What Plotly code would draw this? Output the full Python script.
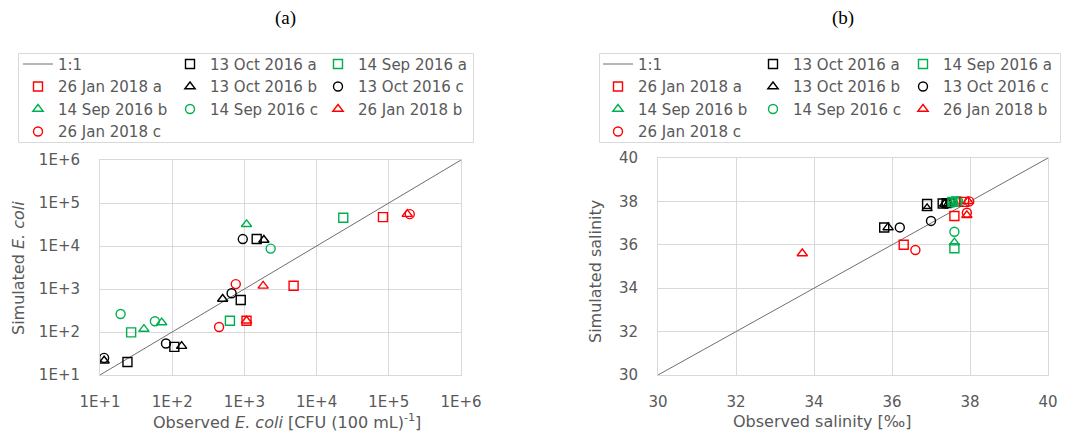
import plotly.graph_objects as go

W, H = 1073, 438
FONT = "DejaVu Sans"
TXT = "#595959"
GRID = "#d9d9d9"

# ---------------- data ----------------
series_names = ["13 Oct 2016 a", "13 Oct 2016 b", "13 Oct 2016 c",
                "14 Sep 2016 a", "14 Sep 2016 b", "14 Sep 2016 c",
                "26 Jan 2018 a", "26 Jan 2018 b", "26 Jan 2018 c"]
series_colors = ["#000000", "#000000", "#000000",
                 "#00B050", "#00B050", "#00B050",
                 "#FF0000", "#FF0000", "#FF0000"]
series_symbols = ["square-open", "triangle-up-open", "circle-open"] * 3

# Panel (a): E. coli [CFU (100 mL)^-1]
ecoli_obs_oct_a = [24, 107, 890, 1480]
ecoli_sim_oct_a = [20, 45, 555, 14500]
ecoli_obs_oct_b = [11.4, 135, 500, 1860]
ecoli_sim_oct_b = [21.5, 47, 585, 13800]
ecoli_obs_oct_c = [11.4, 82, 665, 950]
ecoli_sim_oct_c = [25, 54, 795, 14500]
ecoli_obs_sep_a = [27, 630, 23400]
ecoli_sim_sep_a = [98, 183, 45500]
ecoli_obs_sep_b = [40.6, 71.5, 1070]
ecoli_sim_sep_b = [117, 166, 32000]
ecoli_obs_sep_c = [19.3, 57.6, 2310]
ecoli_sim_sep_c = [262, 178, 8700]
ecoli_obs_jan_a = [1070, 4800, 83000]
ecoli_sim_jan_a = [183, 1190, 47000]
ecoli_obs_jan_b = [1070, 1820, 180000]
ecoli_sim_jan_b = [183, 1180, 55000]
ecoli_obs_jan_c = [446, 760, 195000]
ecoli_sim_jan_c = [131, 1300, 55000]

# Panel (b): salinity [‰]
sal_obs_oct_a = [35.8, 36.9, 37.3, 37.4]
sal_sim_oct_a = [36.8, 37.88, 37.9, 37.92]
sal_obs_oct_b = [35.9, 36.9, 37.35, 37.45]
sal_sim_oct_b = [36.8, 37.68, 37.88, 37.9]
sal_obs_oct_c = [36.2, 37.0, 37.4, 37.5]
sal_sim_oct_c = [36.8, 37.1, 37.9, 37.95]
sal_obs_sep_a = [37.6, 37.55, 37.65]
sal_sim_sep_a = [35.84, 37.98, 38.0]
sal_obs_sep_b = [37.6, 37.58, 37.68]
sal_sim_sep_b = [36.1, 37.98, 38.0]
sal_obs_sep_c = [37.6, 37.55, 37.7]
sal_sim_sep_c = [36.6, 37.95, 38.0]
sal_obs_jan_a = [36.3, 37.6, 37.85]
sal_sim_jan_a = [36.0, 37.33, 37.98]
sal_obs_jan_b = [33.7, 37.92, 37.95]
sal_sim_jan_b = [35.6, 37.36, 38.0]
sal_obs_jan_c = [36.6, 37.92, 37.98]
sal_sim_jan_c = [35.76, 37.48, 38.0]

ecoli_one_to_one = [10, 1e6]
sal_one_to_one = [30, 40]

ecoli_tickvals = [10, 100, 1000, 10000, 100000, 1000000]
ecoli_ticktext = ["1E+1", "1E+2", "1E+3", "1E+4", "1E+5", "1E+6"]
sal_tickvals = [30, 32, 34, 36, 38, 40]

ecoli_obs = [ecoli_obs_oct_a, ecoli_obs_oct_b, ecoli_obs_oct_c,
             ecoli_obs_sep_a, ecoli_obs_sep_b, ecoli_obs_sep_c,
             ecoli_obs_jan_a, ecoli_obs_jan_b, ecoli_obs_jan_c]
ecoli_sim = [ecoli_sim_oct_a, ecoli_sim_oct_b, ecoli_sim_oct_c,
             ecoli_sim_sep_a, ecoli_sim_sep_b, ecoli_sim_sep_c,
             ecoli_sim_jan_a, ecoli_sim_jan_b, ecoli_sim_jan_c]
sal_obs = [sal_obs_oct_a, sal_obs_oct_b, sal_obs_oct_c,
           sal_obs_sep_a, sal_obs_sep_b, sal_obs_sep_c,
           sal_obs_jan_a, sal_obs_jan_b, sal_obs_jan_c]
sal_sim = [sal_sim_oct_a, sal_sim_oct_b, sal_sim_oct_c,
           sal_sim_sep_a, sal_sim_sep_b, sal_sim_sep_c,
           sal_sim_jan_a, sal_sim_jan_b, sal_sim_jan_c]

# legend column (0,1,2) and row for each series (row-major Excel legend layout)
legend_col = {"13 Oct 2016 a": 1, "14 Sep 2016 a": 2,
              "26 Jan 2018 a": 0, "13 Oct 2016 b": 1, "13 Oct 2016 c": 2,
              "14 Sep 2016 b": 0, "14 Sep 2016 c": 1, "26 Jan 2018 b": 2,
              "26 Jan 2018 c": 0}
legend_rank = {"13 Oct 2016 a": 1, "14 Sep 2016 a": 1,
               "26 Jan 2018 a": 2, "13 Oct 2016 b": 2, "13 Oct 2016 c": 2,
               "14 Sep 2016 b": 3, "14 Sep 2016 c": 3, "26 Jan 2018 b": 3,
               "26 Jan 2018 c": 4}

fig = go.Figure()

panels = [("x", "y", ecoli_one_to_one, ecoli_obs, ecoli_sim, ["legend", "legend2", "legend3"]),
          ("x2", "y2", sal_one_to_one, sal_obs, sal_sim, ["legend4", "legend5", "legend6"])]

for xa, ya, oto, obs, sim, legs in panels:
    fig.add_trace(go.Scatter(x=oto, y=oto, mode="lines", name="1:1",
                             line=dict(color="#6f6f6f", width=1),
                             xaxis=xa, yaxis=ya, legend=legs[0], legendrank=0,
                             hoverinfo="skip"))
    for i, nm in enumerate(series_names):
        fig.add_trace(go.Scatter(
            x=obs[i], y=sim[i], mode="markers", name=nm,
            marker=dict(symbol=series_symbols[i], size=9, color=series_colors[i],
                        line=dict(color=series_colors[i], width=1.4)),
            xaxis=xa, yaxis=ya, legend=legs[legend_col[nm]],
            legendrank=legend_rank[nm]))

def px_x(p):
    return p / W

def px_y(p):
    return 1 - p / H

axis_common = dict(showgrid=True, gridcolor=GRID, gridwidth=1, showline=True,
                   linecolor=GRID, linewidth=1, mirror=True, zeroline=False,
                   ticks="", automargin=False,
                   tickfont=dict(family=FONT, size=15, color=TXT))

fig.update_layout(
    width=W, height=H, autosize=False,
    margin=dict(l=0, r=0, t=0, b=0, pad=0, autoexpand=False),
    paper_bgcolor="white", plot_bgcolor="white",
    font=dict(family=FONT, color=TXT),
    xaxis=dict(type="log", range=[1, 6], domain=[px_x(100), px_x(461)],
               tickvals=ecoli_tickvals, ticktext=ecoli_ticktext,
               ticklabelstandoff=13, anchor="y", **axis_common),
    yaxis=dict(type="log", range=[1, 6], domain=[px_y(375), px_y(160)],
               tickvals=ecoli_tickvals, ticktext=ecoli_ticktext,
               ticklabelstandoff=16, anchor="x", **axis_common),
    xaxis2=dict(range=[30, 40], domain=[px_x(658), px_x(1048)],
                tickvals=sal_tickvals, ticklabelstandoff=13, anchor="y2", **axis_common),
    yaxis2=dict(range=[30, 40], domain=[px_y(375), px_y(158)],
                tickvals=sal_tickvals, ticklabelstandoff=16, anchor="x2", **axis_common),
    showlegend=True,
)

leg_common = dict(xanchor="left", yanchor="top", bgcolor="rgba(0,0,0,0)",
                  borderwidth=0, orientation="v", traceorder="normal",
                  font=dict(family=FONT, size=15, color=TXT), tracegroupgap=0)
legend_x = [18, 170, 318, 598, 753, 903]
legend_top = 47.75
layout_legs = {}
for k, lx in enumerate(legend_x):
    key = "legend" if k == 0 else "legend%d" % (k + 1)
    layout_legs[key] = dict(x=px_x(lx), y=px_y(legend_top), **leg_common)
fig.update_layout(**layout_legs)

# legend frames
for (x0, x1) in [(18.5, 473.5), (599.5, 1060.5)]:
    fig.add_shape(type="rect", xref="paper", yref="paper",
                  x0=px_x(x0), x1=px_x(x1), y0=px_y(142.5), y1=px_y(53.5),
                  line=dict(color=GRID, width=1), fillcolor="rgba(0,0,0,0)")

ann_font = dict(family=FONT, size=16, color=TXT)
annotations = [
    dict(text="(a)", x=px_x(285), y=px_y(18), font=dict(family="Liberation Serif", size=19, color="#000000")),
    dict(text="(b)", x=px_x(843), y=px_y(18), font=dict(family="Liberation Serif", size=19, color="#000000")),
    dict(text="Observed <i>E. coli</i> [CFU (100 mL)<sup>-1</sup>]", x=px_x(287), y=px_y(421), font=ann_font),
    dict(text="Observed salinity [‰]", x=px_x(822), y=px_y(421), font=ann_font),
    dict(text="Simulated <i>E. coli</i>", x=px_x(18), y=px_y(268), textangle=-90, font=ann_font),
    dict(text="Simulated salinity", x=px_x(595), y=px_y(272), textangle=-90, font=ann_font),
]
for a in annotations:
    a.update(xref="paper", yref="paper", xanchor="center", yanchor="middle", showarrow=False)
fig.update_layout(annotations=annotations)

fig.write_html("out.html", config={"displayModeBar": False},
               post_script="document.body.style.margin='0';document.body.style.padding='0';")
